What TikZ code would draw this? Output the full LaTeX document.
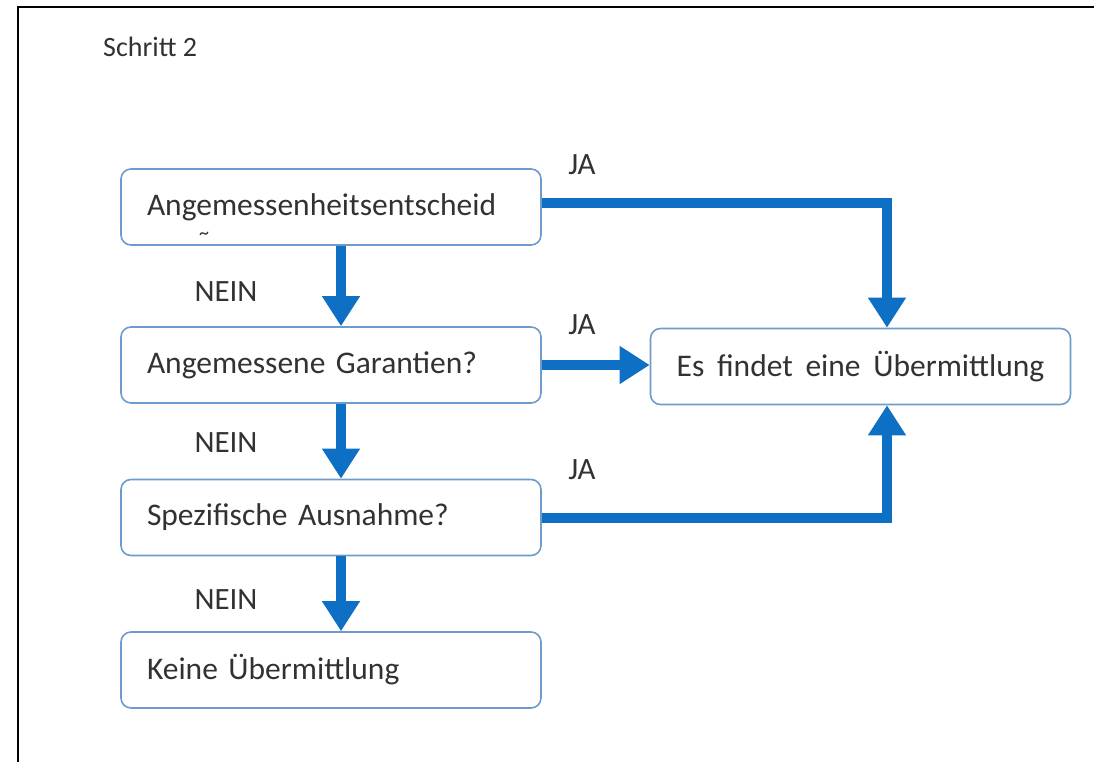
\documentclass[tikz,border=0pt]{standalone}
\usepackage{fontspec}
\setmainfont{Carlito}
\usetikzlibrary{arrows.meta}
\definecolor{ablue}{RGB}{14,112,196}
\definecolor{bbord}{RGB}{110,155,205}
\definecolor{tgray}{RGB}{50,50,50}
\tikzset{
  box/.style={draw=bbord, line width=1.6pt, rounded corners=10pt, minimum width=420pt, minimum height=76pt,
    text width=368pt, align=left, inner sep=0pt, text=tgray, font=\fontsize{31.5}{35}\selectfont},
  boxc/.style={box, align=center, text width=410pt},
  arr/.style={draw=ablue, line width=10pt, -{Triangle[width=36pt,length=30pt]}},
  lbl/.style={text=tgray, font=\fontsize{31}{34}\selectfont, inner sep=0pt},
}
\begin{document}
\begin{tikzpicture}[x=1pt,y=-1pt]
\useasboundingbox (0,0) rectangle (1094,762);
\draw[line width=2.5pt] (18,762) -- (18,7) -- (1094,7);
\node[lbl, anchor=west, font=\fontsize{28}{30}\selectfont] (title) at (103,47) {Schritt 2};

\node[box] (b1) at (331,207) {\rlap{\smash{\hspace*{52pt}\raisebox{-24pt}{\fontsize{20}{20}\selectfont\textasciitilde}}}Angemessenheitsentscheid};
\node[box] (b2) at (331,365) {Angemessene Garantien?};
\node[box] (b3) at (331,517.5) {Spezifische Ausnahme?};
\node[box] (b4) at (331,670) {Keine Übermittlung};
\node[boxc] (b5) at (860.5,366.5) {\spaceskip=12pt plus 2pt Es findet eine Übermittlung};

\draw[arr] ([xshift=10pt]b1.south) -- ([xshift=10pt]b2.north);
\draw[arr] ([xshift=10pt]b2.south) -- ([xshift=10pt]b3.north);
\draw[arr] ([xshift=10pt]b3.south) -- ([xshift=10pt]b4.north);
\draw[arr] ([yshift=4pt]b1.east) -| ([xshift=26.5pt]b5.north);
\draw[arr] (b2.east) -- (b2.east -| b5.west);
\draw[arr] (b3.east) -| ([xshift=26.5pt]b5.south);

\node[lbl] (n1) at (226,292) {NEIN};
\node[lbl] (n2) at (226,443) {NEIN};
\node[lbl] (n3) at (226,600) {NEIN};
\node[lbl] (j1) at (582,165) {JA};
\node[lbl] (j2) at (582,325) {JA};
\node[lbl] (j3) at (582,470) {JA};
\end{tikzpicture}
\end{document}
